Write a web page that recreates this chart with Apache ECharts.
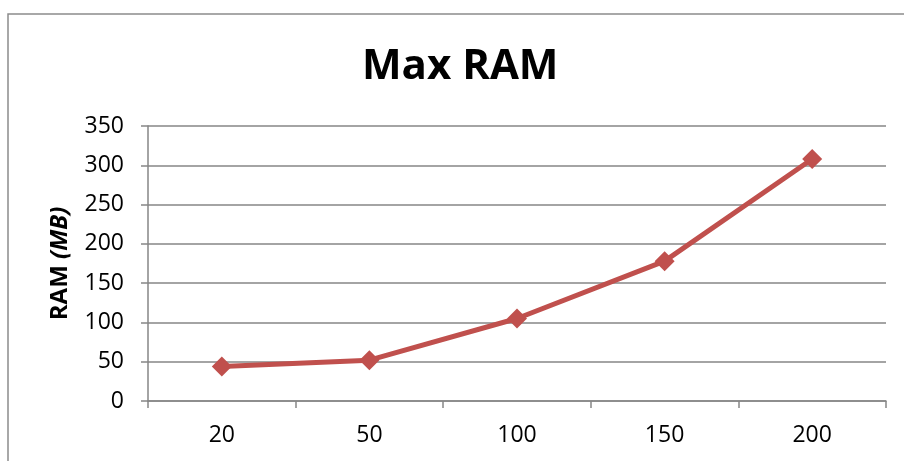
<!DOCTYPE html>
<html>
<head>
<meta charset="utf-8">
<script src="https://cdn.jsdelivr.net/npm/echarts@6/dist/echarts.min.js"></script>
<style>
  html, body { margin: 0; padding: 0; background: #fff; }
  #chart { width: 904px; height: 461px; }
</style>
</head>
<body>
<div id="chart"></div>
<script>
// Peak memory use for each run size
const categories = ['20', '50', '100', '150', '200'];
const ramValues = [44, 52, 105, 178, 308];
const yTicks = { min: 0, max: 350, interval: 50 };

const FONT = '"Open Sans", "Noto Sans", sans-serif';
const AXIS_GRAY = '#868686';

const chart = echarts.init(document.getElementById('chart'), null, { renderer: 'canvas' });

chart.setOption({
  animation: false,
  backgroundColor: '#ffffff',
  title: {
    text: 'Max RAM',
    left: 357,
    top: 41,
    textStyle: { fontFamily: FONT, fontWeight: 'bold', fontSize: 42, color: '#000' }
  },
  graphic: [{
    type: 'rect',
    silent: true,
    shape: { x: 8, y: 14, width: 1000, height: 1000 },
    style: { fill: 'none', stroke: '#8c8c8c', lineWidth: 1.5 }
  }],
  grid: { left: 148, right: 18, top: 126, bottom: 60 },
  xAxis: {
    type: 'category',
    data: categories,
    boundaryGap: true,
    axisLine: { lineStyle: { color: AXIS_GRAY, width: 1.5 } },
    axisTick: { show: true, length: 7, inside: false, alignWithLabel: false, lineStyle: { color: AXIS_GRAY, width: 1.5 } },
    axisLabel: { fontFamily: FONT, fontSize: 23, color: '#000', margin: 23 },
    splitLine: { show: false }
  },
  yAxis: {
    type: 'value',
    min: yTicks.min,
    max: yTicks.max,
    interval: yTicks.interval,
    name: '{b|RAM }{i|(MB)}',
    nameLocation: 'middle',
    nameRotate: 90,
    nameGap: 76,
    nameTextStyle: {
      rich: {
        b: { fontFamily: FONT, fontWeight: 'bold', fontSize: 24, color: '#000' },
        i: { fontFamily: FONT, fontWeight: 'bold', fontStyle: 'italic', fontSize: 24, color: '#000' }
      }
    },
    axisLine: { show: true, lineStyle: { color: AXIS_GRAY, width: 1.5 } },
    axisTick: { show: true, length: 7, inside: false, lineStyle: { color: AXIS_GRAY, width: 1.5 } },
    axisLabel: { fontFamily: FONT, fontSize: 23, color: '#000', margin: 24 },
    splitLine: { show: true, lineStyle: { color: AXIS_GRAY, width: 1.5 } }
  },
  series: [{
    type: 'line',
    data: ramValues,
    symbol: 'diamond',
    symbolSize: 20,
    lineStyle: { color: '#C0504D', width: 5 },
    itemStyle: { color: '#C0504D' },
    z: 3
  }]
});
</script>
</body>
</html>
